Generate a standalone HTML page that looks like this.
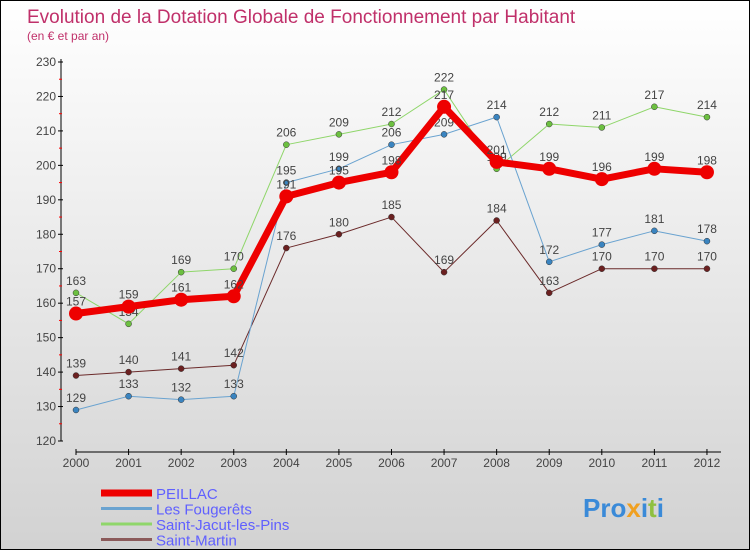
<!DOCTYPE html>
<html><head><meta charset="utf-8"><style>
body{margin:0}
#c{width:748px;height:548px;border:1px solid #000;background:linear-gradient(#fff,#d2d2d2);position:relative;font-family:"Liberation Sans",sans-serif}
svg{position:absolute;left:0;top:0}
</style></head><body>
<div id="c">
<svg id="s" width="750" height="550">
<text x="26" y="22" font-size="19" fill="#c0306a">Evolution de la Dotation Globale de Fonctionnement par Habitant</text>
<text x="26" y="39" font-size="12" fill="#c0306a">(en € et par an)</text>
</svg>
</div>
<script>
const years=[2000,2001,2002,2003,2004,2005,2006,2007,2008,2009,2010,2011,2012];
const peillac=[157,159,161,162,191,195,198,217,201,199,196,199,198];
const fougerets=[129,133,132,133,195,199,206,209,214,172,177,181,178];
const jacut=[163,154,169,170,206,209,212,222,199,212,211,217,214];
const martin=[139,140,141,142,176,180,185,169,184,163,170,170,170];
const yTicks=[120,130,140,150,160,170,180,190,200,210,220,230];
const names=["PEILLAC","Les Fougerêts","Saint-Jacut-les-Pins","Saint-Martin"];
const NS="http://www.w3.org/2000/svg",s=document.getElementById('s');
const X=i=>75+i*52.58, Y=v=>61+(230-v)*(379/110);
function el(t,a,p){const e=document.createElementNS(NS,t);for(const k in a)e.setAttribute(k,a[k]);(p||s).appendChild(e);return e;}
let ax=el('line',{x1:60,y1:58,x2:60,y2:440,stroke:'#000'});


let bx=el('line',{x1:75,y1:451,x2:720,y2:451,stroke:'#000'});


yTicks.forEach(v=>{
 el('line',{x1:57,x2:62,y1:Y(v),y2:Y(v),stroke:'#000'});
 if(v<230)el('line',{x1:58,x2:61,y1:Y(v+5),y2:Y(v+5),stroke:'#f00'});
 const t=el('text',{x:55,y:Y(v)+4,'text-anchor':'end','font-size':12,fill:'#444'});t.textContent=v;
 
 
});
years.forEach((y,i)=>{
 el('line',{x1:X(i),x2:X(i),y1:448,y2:454,stroke:'#000'});
 const t=el('text',{x:X(i),y:466,'text-anchor':'middle','font-size':12,fill:'#444'});t.textContent=y;
 
 
});
const series=[[martin,'#6b2a2a','#6b2020',1,4],[jacut,'#8fd66a','#6cc040',1,4],[fougerets,'#6aa3d0','#3a84c0',1,4],[peillac,'#ee0000','#ee0000',7,7]];
const lnames=['saint-martin','saint-jacut','les-fougerets','peillac'];
series.forEach(([d,c,mc,w,r],k)=>{
 const g=el('g',{});
 
 
 el('polyline',{points:d.map((v,i)=>X(i)+','+Y(v)).join(' '),fill:'none',stroke:c,'stroke-width':w,'stroke-linejoin':'round'},g);
 d.forEach((v,i)=>{
  const p=el('circle',{cx:X(i),cy:Y(v),r:w>2?r:3,fill:mc,stroke:w>2?'none':'#333','stroke-width':0.5},g);
  
  
  const t=el('text',{x:X(i),y:Y(v)-8,'text-anchor':'middle','font-size':12,fill:'#444'},g);t.textContent=v;
 });
});
const lc=['#ee0000','#6aa3d0','#8fd66a','#8b5a5a'],lw=[7,3,3,3];
names.forEach((n,i)=>{
 const y=492+i*15.5;
 const l=el('line',{x1:100,x2:151,y1:y,y2:y,stroke:lc[i],'stroke-width':lw[i]});
 
 
 const t=el('text',{x:155,y:y+6,'font-size':15,fill:'#6060ff'});t.textContent=n;
 
 
});
const lg=el('text',{x:582,y:516,'font-size':26,'font-weight':'bold',fill:'#3a8ad8'});
lg.innerHTML='Pro<tspan fill="#f0a020">x</tspan>i<tspan fill="#8fc040">t</tspan>i';


</script>
</body></html>
